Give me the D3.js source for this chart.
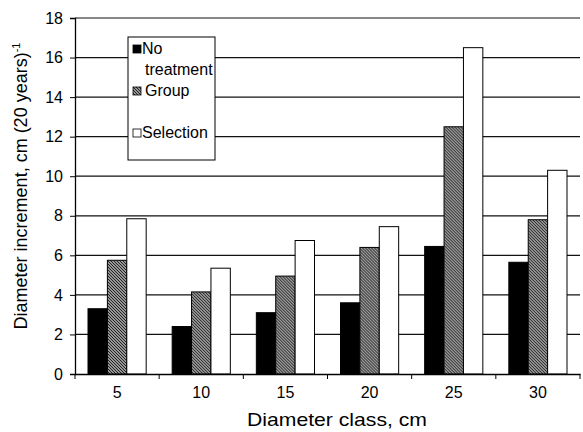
<!DOCTYPE html>
<meta charset="utf-8">
<head>
  <title>Diameter increment</title>
  <script src="https://cdn.jsdelivr.net/npm/d3@7"></script>
  <style>
    body { margin: 0; background: #fff; }
    text { font-family: "Liberation Sans", Arial, sans-serif; fill: #000; }
  </style>
</head>
<body>
<svg id="chart"></svg>
<script>
  // data
  var classes = ["5", "10", "15", "20", "25", "30"];
  var seriesNames = ["No treatment", "Group", "Selection"];
  var noTreatment = [3.3, 2.4, 3.1, 3.6, 6.45, 5.65];
  var group = [5.75, 4.15, 4.95, 6.4, 12.5, 7.8];
  var selection = [7.85, 5.35, 6.75, 7.45, 16.5, 10.3];
  var yTicks = [0, 2, 4, 6, 8, 10, 12, 14, 16, 18];

  var W = 583, H = 432;
  var margin = {top: 18, right: 3, bottom: 58, left: 75};
  var width = W - margin.left - margin.right, height = H - margin.top - margin.bottom;

  var svg = d3.select("#chart").attr("width", W).attr("height", H);

  // hatch pattern for "Group"
  var defs = svg.append("defs");
  var pat = defs.append("pattern").attr("id", "hatch").attr("patternUnits", "userSpaceOnUse")
    .attr("width", 3).attr("height", 3);
  pat.append("rect").attr("width", 3).attr("height", 3).attr("fill", "#c8c8c8");
  pat.append("path").attr("d", "M-1,-1 L4,4 M-1,2 L1,4 M2,-1 L4,1").attr("stroke", "#1a1a1a").attr("stroke-width", 1.1);

  var g = svg.append("g").attr("transform", "translate(" + margin.left + "," + margin.top + ")");

  var x = d3.scaleBand().domain(classes).range([0, width]).paddingInner(0).paddingOuter(0);
  var x1 = d3.scaleBand().domain(seriesNames).range([13, x.bandwidth() - 13]);
  var y = d3.scaleLinear().domain([0, 18]).range([height, 0]);

  // gridlines
  g.append("g").selectAll("line").data(yTicks.filter(function(d){ return d > 0; }))
    .enter().append("line")
    .attr("x1", 0).attr("x2", width)
    .attr("y1", function(d){ return y(d); }).attr("y2", function(d){ return y(d); })
    .attr("stroke", "#111").attr("stroke-width", 1.2);

  var fills = ["#000", "url(#hatch)", "#fff"];
  var rows = classes.map(function(c, i) {
    return {cls: c, vals: [noTreatment[i], group[i], selection[i]]};
  });

  var groups = g.selectAll(".grp").data(rows).enter().append("g")
    .attr("transform", function(d){ return "translate(" + x(d.cls) + ",0)"; });
  groups.selectAll("rect").data(function(d){
      return d.vals.map(function(v, j){ return {name: seriesNames[j], v: v, j: j}; });
    })
    .enter().append("rect")
    .attr("x", function(d){ return x1(d.name); })
    .attr("width", x1.bandwidth())
    .attr("y", function(d){ return y(d.v); })
    .attr("height", function(d){ return y(0) - y(d.v); })
    .attr("fill", function(d){ return fills[d.j]; })
    .attr("stroke", "#000").attr("stroke-width", 1);

  // axes
  var yAxis = g.append("g").call(d3.axisLeft(y).tickValues(yTicks).tickSize(5).tickPadding(7));
  var xAxis = g.append("g").attr("transform", "translate(0," + height + ")")
    .call(d3.axisBottom(x).tickSize(0).tickPadding(13));
  xAxis.selectAll(".tick").append("line")
    .attr("x1", -x.bandwidth() / 2).attr("x2", -x.bandwidth() / 2)
    .attr("y1", 0).attr("y2", 5).attr("stroke", "#000");
  xAxis.append("line").attr("x1", width).attr("x2", width).attr("y1", 0).attr("y2", 5).attr("stroke", "#000");
  [yAxis, xAxis].forEach(function(a){
    a.attr("font-family", null);
    a.select(".domain").attr("stroke", "#000").attr("stroke-width", 1.3);
    a.selectAll("text").style("font-size", "16px").attr("fill", "#000");
  });

  // axis titles
  svg.append("text").attr("x", 337).attr("y", 426).attr("text-anchor", "middle")
    .attr("textLength", 180).attr("lengthAdjust", "spacingAndGlyphs")
    .style("font-size", "19px").text("Diameter class, cm");
  var yt = svg.append("text").attr("transform", "translate(27," + 186 + ") rotate(-90)")
    .attr("text-anchor", "middle").style("font-size", "18px");
  yt.append("tspan").text("Diameter increment, cm (20 years)");
  yt.append("tspan").attr("dy", -7).style("font-size", "11px").text("-1");

  // legend
  var lg = svg.append("g").attr("transform", "translate(128,37)");
  lg.append("rect").attr("width", 87).attr("height", 123).attr("fill", "#fff").attr("stroke", "#000");
  var items = [
    {lines: ["No", "treatment"], y: 16, tx: 14},
    {lines: ["Group"], y: 58, tx: 17},
    {lines: ["Selection"], y: 100, tx: 14}
  ];
  items.forEach(function(it, i) {
    lg.append("rect").attr("x", 5).attr("y", it.y - 8).attr("width", 8).attr("height", 8)
      .attr("fill", fills[i]).attr("stroke", "#000").attr("stroke-width", 0.8);
    it.lines.forEach(function(t, k) {
      lg.append("text").attr("x", k === 0 ? it.tx : 17).attr("y", it.y + 1 + k * 21)
        .style("font-size", "16px").text(t);
    });
  });
</script>
</body>
</html>
